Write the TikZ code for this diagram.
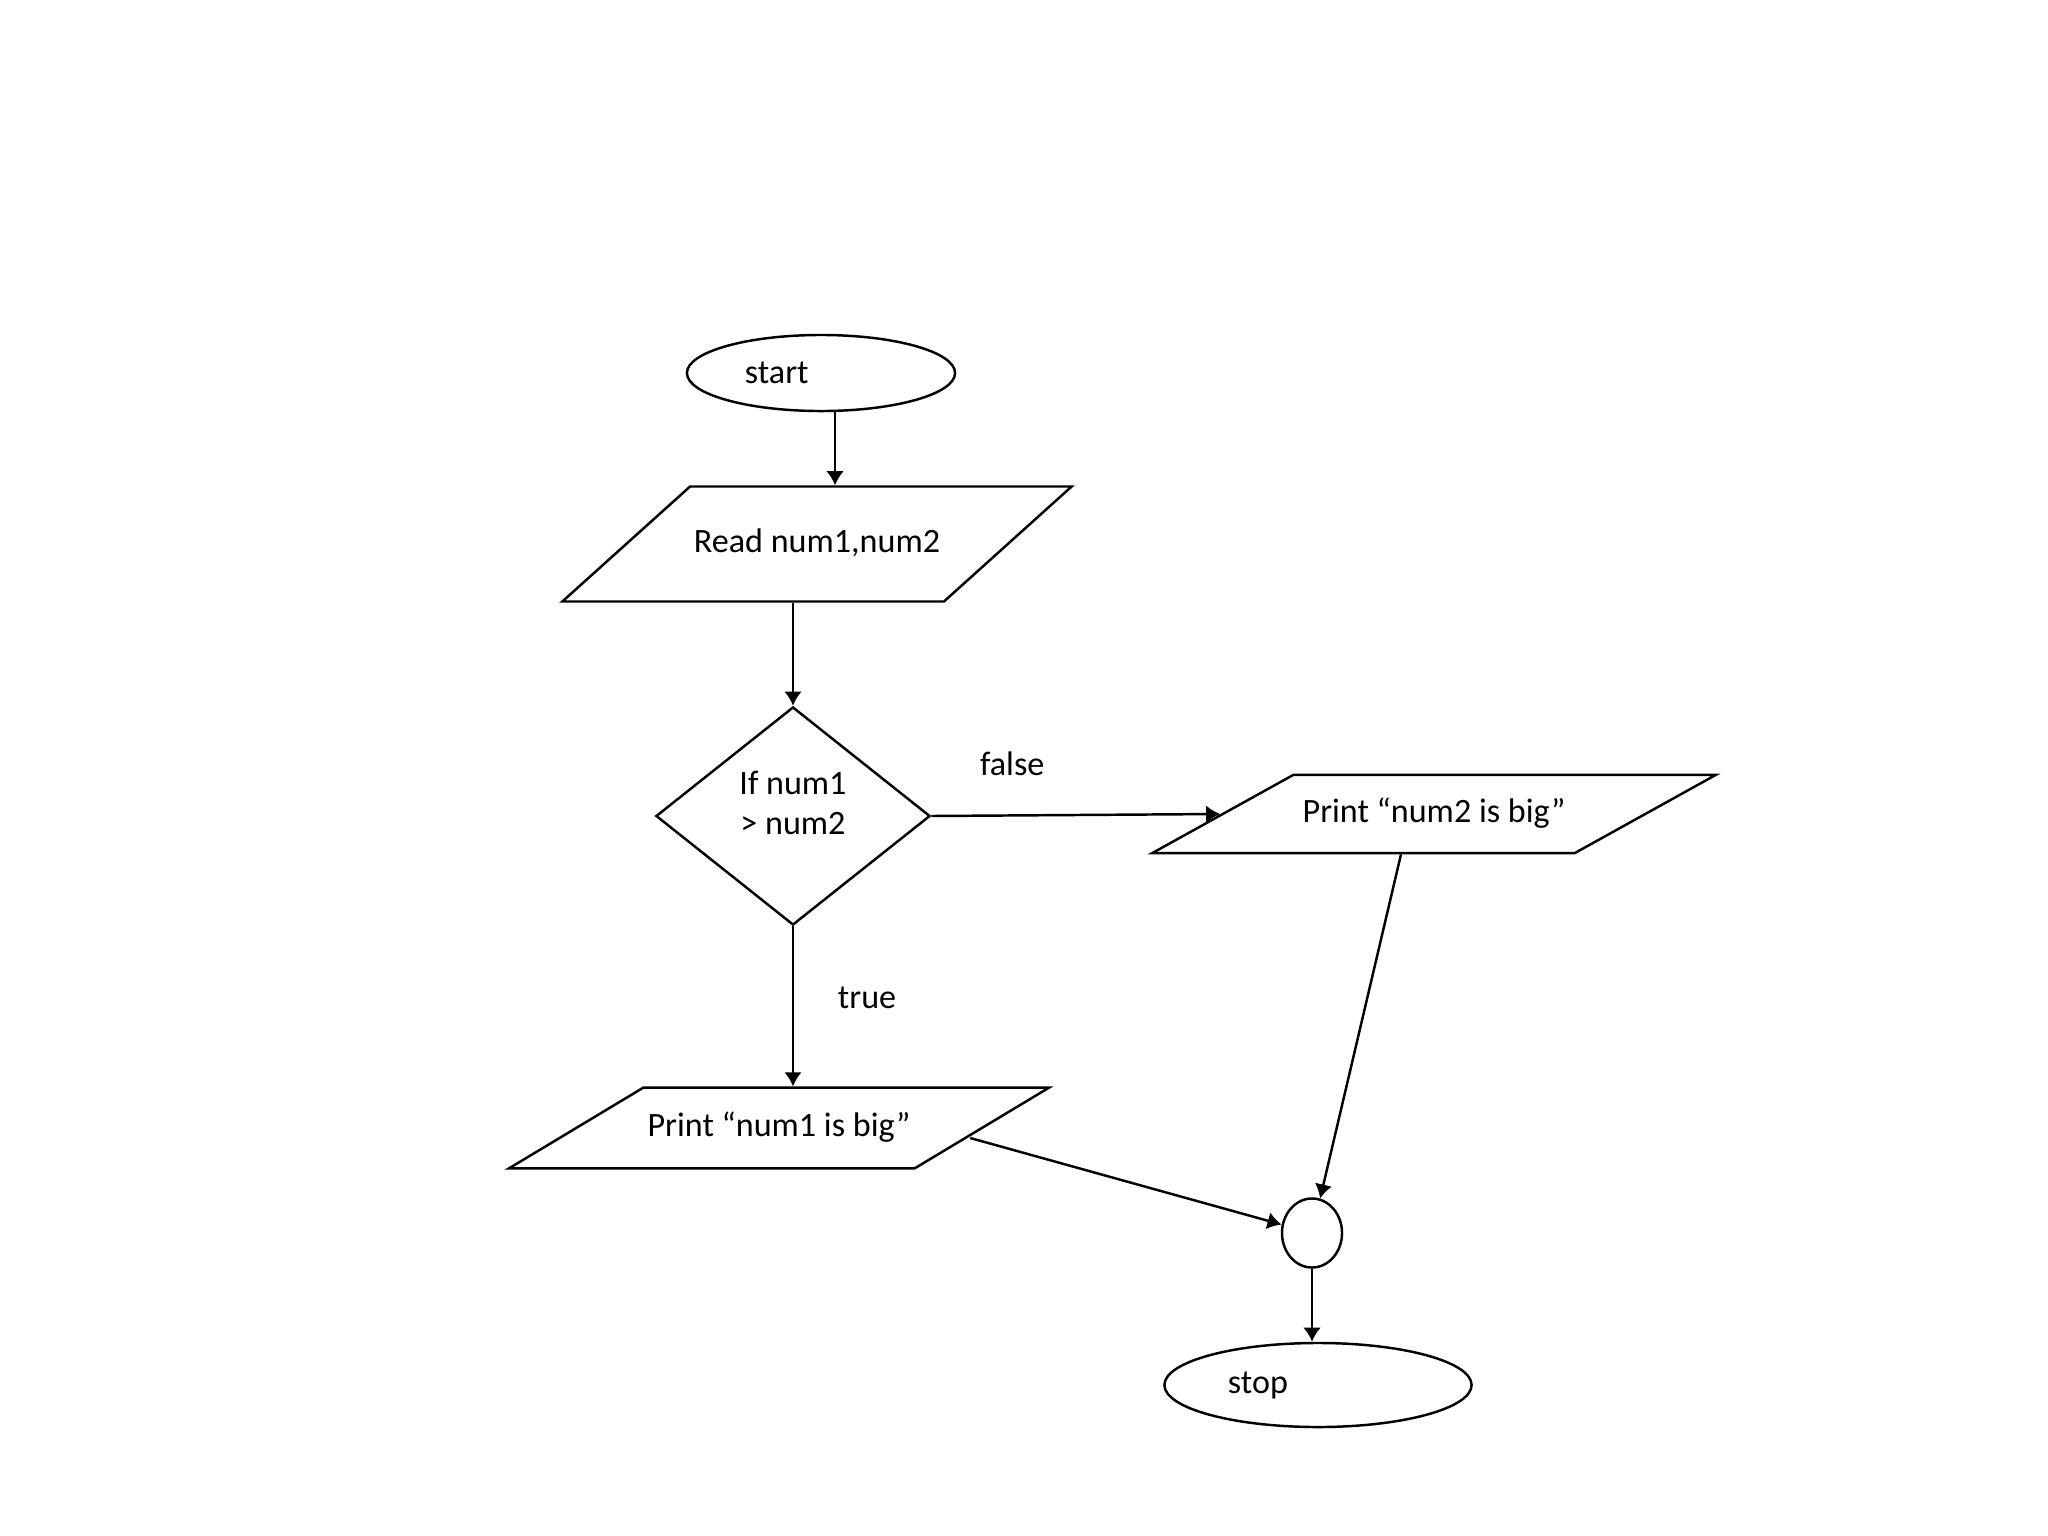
\documentclass[tikz,border=0pt]{standalone}
\usepackage{fontspec}
\setmainfont{Carlito}
\usepackage{tikz}
\usetikzlibrary{arrows.meta, shapes.geometric}

\begin{document}
            \begin{tikzpicture}[x=0.01cm, y=-0.01cm, line width=0.7pt, font=\fontsize{9.7}{11.6}\selectfont,
                term/.style = {draw, ellipse, inner sep=1pt, align=left},
                io/.style = {draw, trapezium, trapezium stretches body=true, inner xsep=1pt, text height=7pt, text depth=2pt},
                cond/.style = {draw, diamond, align=center, inner sep=1pt},
                >={Latex[width=5pt, length=4pt]}]
                \useasboundingbox (0,0) rectangle (2048,1536);
                \node[term, text width=1.52cm, minimum width=2.68cm, minimum height=0.76cm] (1) at (821, 373) {start};
                \node[io, trapezium left angle=42, trapezium right angle=138, inner ysep=11.85pt, minimum width=5.09cm] (2) at (817, 544) {Read num1,num2};
                \node[cond, text depth=7.5pt, minimum width=2.74cm, minimum height=2.18cm] (3) at (793, 816) {If num1\\> num2};
                \node[io, trapezium left angle=31, trapezium right angle=149, inner ysep=7pt, minimum width=5.40cm] (4) at (779, 1128) {Print “num1 is big”};
                \node[draw, ellipse, inner sep=0pt, minimum width=0.60cm, minimum height=0.69cm] (5) at (1312, 1233) {};
                \node[io, trapezium left angle=29, trapezium right angle=151, inner ysep=6.6pt, minimum width=5.63cm] (6) at (1434, 814) {Print “num2 is big”};
                \node[term, text width=1.8cm, minimum width=3.07cm, minimum height=0.84cm] (7) at (1318, 1385) {stop};
                \path[->] ([xshift=0.14cm]1.south) edge ([xshift=0.14cm]1.south |- 2.north);
                \path[->] (3.north |- 2.south) edge (3.north);
                \path[->] (3.south) edge node[pos=0.45, right=0.32cm] {true} (3.south |- 4.north);
                \path[->] (3.east) edge node[pos=0.28, above=0.27cm] {false} (6.west);
                \path[->] ([xshift=-0.33cm]6.south) edge (5);
                \path[->] ([xshift=-0.14cm, yshift=-0.1cm]4.east) edge (5);
                \path[->] (5.south) edge (5.south |- 7.north);
            \end{tikzpicture}
\end{document}
